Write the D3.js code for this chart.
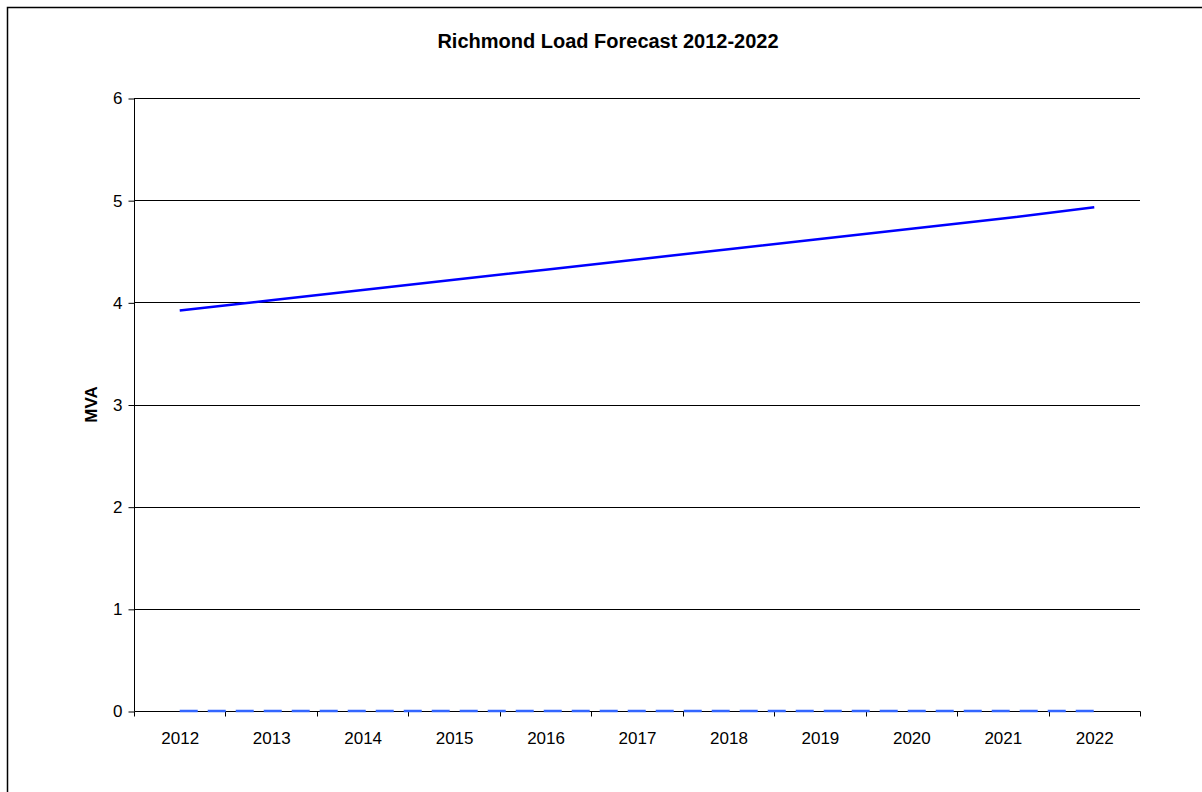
<!DOCTYPE html>
<html><head><meta charset="utf-8">
<script src="https://cdn.jsdelivr.net/npm/d3@7"></script>
<style>body{margin:0;background:#fff}svg{display:block}text{font-family:Arial,"Liberation Sans",sans-serif}</style>
</head><body>
<svg id="c" width="1202" height="792"></svg>
<script>
const years = ["2012","2013","2014","2015","2016","2017","2018","2019","2020","2021","2022"];
const forecast = [3.92,4.02,4.12,4.22,4.32,4.42,4.52,4.62,4.72,4.82,4.93];
const capacity = [0,0,0,0,0,0,0,0,0,0,0];
const yTicks = [0,1,2,3,4,5,6];
const title = "Richmond Load Forecast 2012-2022";
const yLabel = "MVA";

const svg = d3.select("#c");
svg.append("rect").attr("x",7.5).attr("y",7.5).attr("width",1200).attr("height",790)
  .attr("fill","#fff").attr("stroke","#000").attr("stroke-width",1.5);

const L=134, R=1140, T=98, B=711;
const x = d3.scaleBand().domain(years).range([L,R]);
const y = d3.scaleLinear().domain([0,6]).range([B,T]);
const FONT = "Arial,'Liberation Sans',sans-serif";

// gridlines
svg.append("g").selectAll("line").data(yTicks.filter(d=>d>0)).join("line")
  .attr("x1",L).attr("x2",R).attr("y1",d=>Math.round(y(d))+0.5).attr("y2",d=>Math.round(y(d))+0.5)
  .attr("stroke","#000").attr("stroke-width",1);

// y axis
const ya = svg.append("g").attr("transform",`translate(${L+0.5},0.5)`)
  .call(d3.axisLeft(y).tickValues(yTicks).tickSize(6).tickPadding(6).tickFormat(d3.format("d")));
ya.select(".domain").attr("d",`M0,${T}V${B}`);
ya.selectAll("text").attr("font-size",17).attr("font-family",FONT).attr("fill","#000");

// x axis
const xa = svg.append("g").attr("transform",`translate(0.5,${B+0.5})`);
xa.append("line").attr("x1",L).attr("x2",R).attr("stroke","#000");
const edges = years.map(d=>x(d)).concat([R]);
xa.selectAll("line.t").data(edges).join("line").attr("class","t")
  .attr("x1",d=>Math.round(d)).attr("x2",d=>Math.round(d)).attr("y1",0).attr("y2",5).attr("stroke","#000");
xa.selectAll("text").data(years).join("text")
  .attr("x",d=>x(d)+x.bandwidth()/2).attr("y",32).attr("text-anchor","middle")
  .attr("font-size",17).attr("fill","#000").text(d=>d);

const cx = d=>x(d)+x.bandwidth()/2;
// capacity series dashed
svg.append("path").datum(capacity)
  .attr("d",d3.line().x((d,i)=>cx(years[i])).y(d=>y(d)))
  .attr("fill","none").attr("stroke","#3366FF").attr("stroke-width",2.5).attr("stroke-dasharray","18,10");
// forecast line
svg.append("path").datum(forecast)
  .attr("d",d3.line().x((d,i)=>cx(years[i])).y(d=>y(d)))
  .attr("fill","none").attr("stroke","#0000FF").attr("stroke-width",2.5);

svg.append("text").attr("x",608).attr("y",48).attr("text-anchor","middle")
  .attr("font-size",20).attr("font-weight","bold").text(title);
svg.append("text").attr("transform",`translate(97,${(T+B)/2}) rotate(-90)`).attr("text-anchor","middle")
  .attr("font-size",17).attr("font-weight","bold").text(yLabel);
</script>
</body></html>
